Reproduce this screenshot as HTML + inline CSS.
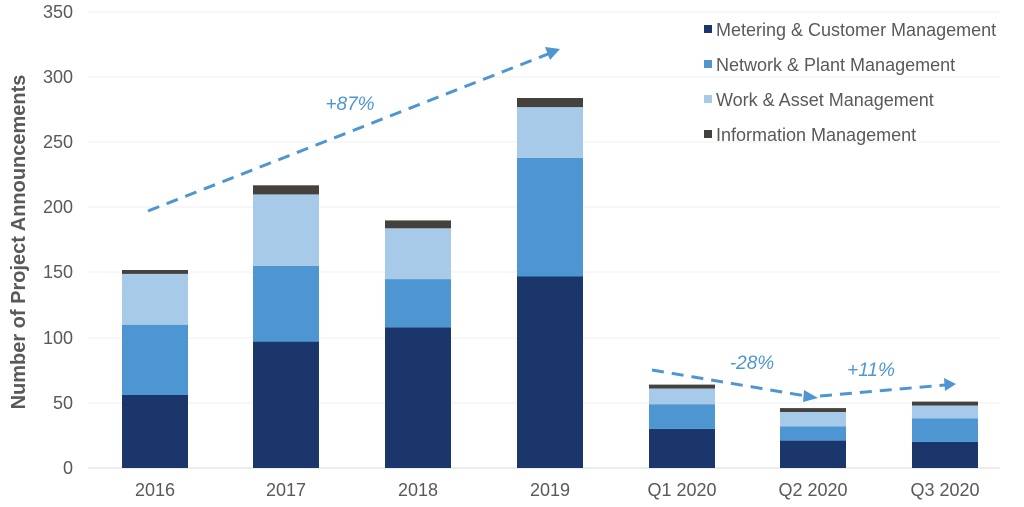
<!DOCTYPE html>
<html><head><meta charset="utf-8"><style>
html,body{margin:0;padding:0;background:#fff;}
svg text{font-family:"Liberation Sans",Arial,sans-serif;}
</style></head><body>
<svg width="1024" height="502" viewBox="0 0 1024 502" xmlns="http://www.w3.org/2000/svg">
<g stroke="#efefef" stroke-width="1">
<line x1="88" x2="1000" y1="12" y2="12"/><line x1="88" x2="1000" y1="77" y2="77"/>
<line x1="88" x2="1000" y1="142" y2="142"/><line x1="88" x2="1000" y1="207" y2="207"/>
<line x1="88" x2="1000" y1="272" y2="272"/><line x1="88" x2="1000" y1="338" y2="338"/>
<line x1="88" x2="1000" y1="403" y2="403"/>
</g>
<line x1="88" x2="1000" y1="468" y2="468" stroke="#d9d9d9"/>
<g font-size="18" fill="#595959" text-anchor="end">
<text x="73" y="18">350</text><text x="73" y="83">300</text><text x="73" y="148">250</text>
<text x="73" y="213">200</text><text x="73" y="278">150</text><text x="73" y="344">100</text>
<text x="73" y="409">50</text><text x="73" y="474">0</text>
</g>
<text transform="translate(25,242) rotate(-90)" text-anchor="middle" font-size="20" font-weight="bold" fill="#595959">Number of Project Announcements</text>
<g>
<rect x="122" y="395" width="66" height="73" fill="#1a366b"/>
<rect x="122" y="324.7" width="66" height="70.3" fill="#4d96d1"/>
<rect x="122" y="273.9" width="66" height="50.8" fill="#a6cae7"/>
<rect x="122" y="270" width="66" height="3.9" fill="#45423d"/>
<rect x="253" y="341.6" width="66" height="126.4" fill="#1a366b"/>
<rect x="253" y="266" width="66" height="75.6" fill="#4d96d1"/>
<rect x="253" y="194.4" width="66" height="71.6" fill="#a6cae7"/>
<rect x="253" y="185.3" width="66" height="9.1" fill="#45423d"/>
<rect x="385" y="327.3" width="66" height="140.7" fill="#1a366b"/>
<rect x="385" y="279.1" width="66" height="48.2" fill="#4d96d1"/>
<rect x="385" y="228.3" width="66" height="50.8" fill="#a6cae7"/>
<rect x="385" y="220.4" width="66" height="7.9" fill="#45423d"/>
<rect x="517" y="276.5" width="66" height="191.5" fill="#1a366b"/>
<rect x="517" y="157.9" width="66" height="118.6" fill="#4d96d1"/>
<rect x="517" y="107.1" width="66" height="50.8" fill="#a6cae7"/>
<rect x="517" y="98" width="66" height="9.1" fill="#45423d"/>
<rect x="649" y="428.9" width="66" height="39.1" fill="#1a366b"/>
<rect x="649" y="404.2" width="66" height="24.7" fill="#4d96d1"/>
<rect x="649" y="388.5" width="66" height="15.7" fill="#a6cae7"/>
<rect x="649" y="384.6" width="66" height="3.9" fill="#45423d"/>
<rect x="780" y="440.6" width="66" height="27.4" fill="#1a366b"/>
<rect x="780" y="426.3" width="66" height="14.3" fill="#4d96d1"/>
<rect x="780" y="412" width="66" height="14.3" fill="#a6cae7"/>
<rect x="780" y="408.1" width="66" height="3.9" fill="#45423d"/>
<rect x="912" y="441.9" width="66" height="26.1" fill="#1a366b"/>
<rect x="912" y="418.5" width="66" height="23.4" fill="#4d96d1"/>
<rect x="912" y="405.5" width="66" height="13" fill="#a6cae7"/>
<rect x="912" y="401.6" width="66" height="3.9" fill="#45423d"/>
</g>
<g font-size="18" fill="#595959" text-anchor="middle">
<text x="155" y="496">2016</text><text x="286" y="496">2017</text><text x="418" y="496">2018</text>
<text x="550" y="496">2019</text><text x="682" y="496">Q1 2020</text><text x="813" y="496">Q2 2020</text>
<text x="945" y="496">Q3 2020</text>
</g>
<g stroke="#4d96d1" stroke-width="3" stroke-dasharray="12,8" fill="none">
<line x1="148" y1="211" x2="548" y2="54"/>
<line x1="652" y1="370" x2="806" y2="396"/>
<line x1="820" y1="396" x2="945" y2="385"/>
</g>
<g fill="#4d96d1">
<polygon points="560,49 545,47 550,60"/>
<polygon points="818,398 804,390 803,402"/>
<polygon points="956,384 944,378 945,391"/>
</g>
<g font-size="19" font-style="italic" fill="#4d96d1" text-anchor="middle">
<text x="350" y="110">+87%</text><text x="752" y="369">-28%</text><text x="871" y="376">+11%</text>
</g>
<g font-size="18" fill="#595959">
<rect x="704" y="25" width="8" height="8" fill="#1a366b"/><text x="716" y="36">Metering &amp; Customer Management</text>
<rect x="704" y="60" width="8" height="8" fill="#4d96d1"/><text x="716" y="71">Network &amp; Plant Management</text>
<rect x="704" y="95" width="8" height="8" fill="#a6cae7"/><text x="716" y="106">Work &amp; Asset Management</text>
<rect x="704" y="130" width="8" height="8" fill="#45423d"/><text x="716" y="141">Information Management</text>
</g>
</svg>
</body></html>
